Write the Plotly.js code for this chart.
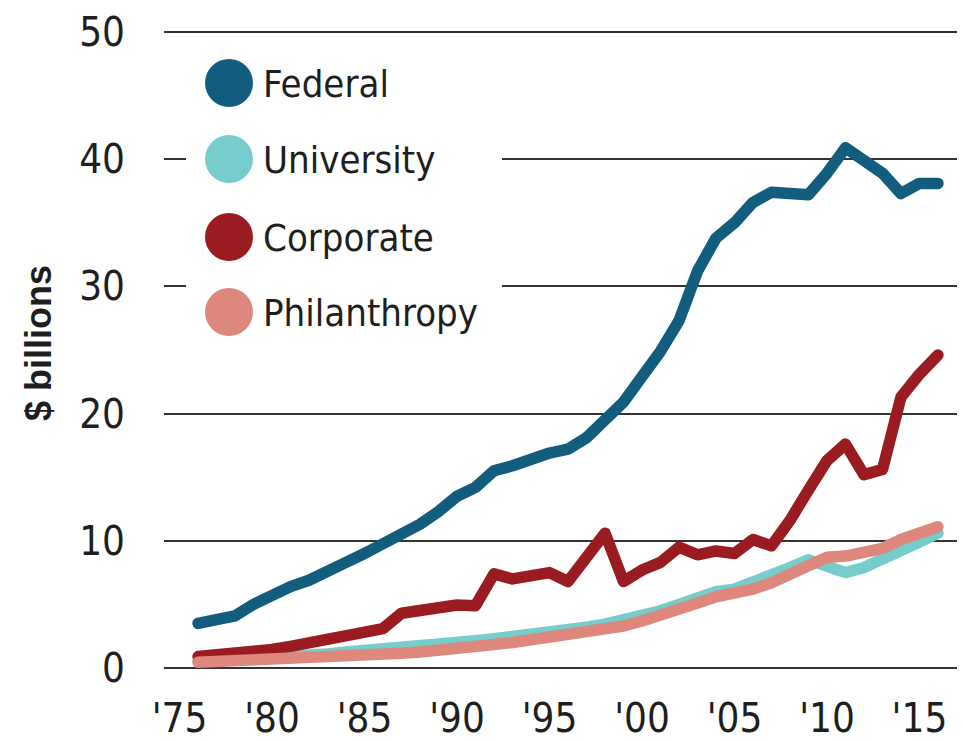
<!DOCTYPE html>
<html><head><meta charset="utf-8">
<script src="https://cdn.plot.ly/plotly-3.0.1.min.js"></script>
<style>
html,body{margin:0;padding:0;background:#fff;}
#chart{width:963px;height:741px;}
.scatterlayer path.js-line{stroke-linecap:round !important;stroke-linejoin:round !important;}
</style></head><body><div id="chart"></div>
<script>
const years = [1976,1977,1978,1979,1980,1981,1982,1983,1984,1985,1986,1987,1988,1989,1990,
  1991,1992,1993,1994,1995,1996,1997,1998,1999,2000,2001,2002,2003,2004,2005,
  2006,2007,2008,2009,2010,2011,2012,2013,2014,2015,2016];
const federal = [3.5,3.8,4.1,5.0,5.8,6.4,6.9,7.5,8.3,9.0,9.7,10.4,11.3,12.3,13.5,
  14.2,15.5,15.9,16.5,16.9,17.2,18.1,19.5,20.9,22.9,24.9,27.3,31.2,33.8,35.0,
  36.6,37.4,37.3,37.2,38.9,40.9,39.9,38.9,37.3,38.1,38.1];
const university = [0.55,0.6,0.65,0.7,0.8,0.9,1.0,1.1,1.25,1.35,1.5,1.6,1.7,1.85,2.0,
  2.15,2.3,2.45,2.6,2.8,3.0,3.2,3.45,3.75,4.1,4.5,5.0,5.5,6.0,6.2,
  6.7,7.3,7.9,8.5,8.1,7.5,7.9,8.5,9.3,9.9,10.6];
const corporate = [0.9,1.0,1.15,1.3,1.45,1.7,2.0,2.2,2.5,2.8,3.1,4.3,4.5,4.6,4.95,
  4.9,7.4,7.0,7.2,7.5,6.8,8.6,10.6,6.8,7.7,8.3,9.5,8.9,9.2,9.0,
  10.1,9.6,11.6,14.0,16.3,17.6,15.2,15.6,21.3,23.1,24.6];
const philanthropy = [0.45,0.5,0.5,0.55,0.6,0.65,0.7,0.8,0.85,0.95,1.05,1.15,1.25,1.35,1.55,
  1.7,1.85,2.0,2.2,2.4,2.6,2.8,3.0,3.3,3.7,4.1,4.6,5.1,5.6,5.8,
  6.2,6.7,7.3,8.1,8.7,8.8,9.0,9.4,10.1,10.6,11.1];

const seriesNames = ['Federal','University','Corporate','Philanthropy'];
const seriesColors = ['#125d7e','#77cdcb','#9b1c20','#de877c'];
const seriesData = [federal, university, corporate, philanthropy];

const xTickVals = [1975,1980,1985,1990,1995,2000,2005,2010,2015];
const xTickText = ["'75","'80","'85","'90","'95","'00","'05","'10","'15"];
const yTickVals = [0,10,20,30,40,50];
const yTitle = '$ billions';

const narrow = '"Liberation Sans Narrow", "Arial Narrow", "DejaVu Sans Condensed", sans-serif';

const traces = seriesNames.map((name, i) => ({
  type: 'scatter', mode: 'lines', name: name,
  x: years, y: seriesData[i],
  line: {color: seriesColors[i], width: 11.5},
  hoverinfo: 'skip'
}));

// plot area in pixels
const plotL = 164, plotR = 957, plotT = 31, plotB = 669;
const pw = plotR - plotL, ph = plotB - plotT;
const px = v => (v - plotL) / pw;
const py = v => (plotB - v) / ph;

// manual legend (large dots) in paper coordinates
const shapes = [{
  type: 'rect', xref: 'paper', yref: 'paper', layer: 'above',
  x0: px(186), x1: px(502), y0: py(345), y1: py(45),
  fillcolor: '#ffffff', line: {width: 0}
}];
const annotations = [];
const legendY = [83, 159, 237, 312];
const r = 24;
seriesNames.forEach((name, i) => {
  const cy = legendY[i];
  shapes.push({
    type: 'circle', xref: 'paper', yref: 'paper', layer: 'above',
    x0: px(229 - r), x1: px(229 + r), y0: py(cy + r), y1: py(cy - r),
    fillcolor: seriesColors[i], line: {width: 0}
  });
  annotations.push({
    xref: 'paper', yref: 'paper', x: px(261), y: py(cy + 1),
    xanchor: 'left', yanchor: 'middle', showarrow: false,
    text: name, font: {family: narrow, size: 38, color: '#1e1e1e'}
  });
});
annotations.push({
  xref: 'paper', yref: 'paper', x: px(38), y: py(343),
  xanchor: 'center', yanchor: 'middle', showarrow: false, textangle: -90,
  text: '<b>' + yTitle + '</b>',
  font: {family: '"Liberation Sans", Arial, sans-serif', size: 36, color: '#1e1e1e'}
});

const layout = {
  width: 963, height: 741,
  margin: {l: plotL, r: 963 - plotR, t: plotT, b: 741 - plotB, pad: 0},
  paper_bgcolor: '#fff', plot_bgcolor: '#fff',
  showlegend: false,
  font: {family: narrow, color: '#1e1e1e'},
  xaxis: {
    range: [1974.16, 2017.03],
    tickmode: 'array', tickvals: xTickVals, ticktext: xTickText,
    showgrid: false, zeroline: false, showline: false,
    ticks: 'outside', ticklen: 14, tickcolor: 'rgba(0,0,0,0)',
    tickfont: {family: narrow, size: 40, color: '#1e1e1e'},
    fixedrange: true
  },
  yaxis: {
    range: [-0.08, 50.08],
    tickmode: 'array', tickvals: yTickVals,
    showgrid: true, gridcolor: '#333333', gridwidth: 2,
    zeroline: true, zerolinecolor: '#333333', zerolinewidth: 2,
    showline: false,
    ticks: 'outside', ticklen: 30, tickcolor: 'rgba(0,0,0,0)',
    tickfont: {family: narrow, size: 40, color: '#1e1e1e'},
    fixedrange: true
  },
  shapes: shapes,
  annotations: annotations
};

Plotly.newPlot('chart', traces, layout, {displayModeBar: false, staticPlot: true});
</script></body></html>
